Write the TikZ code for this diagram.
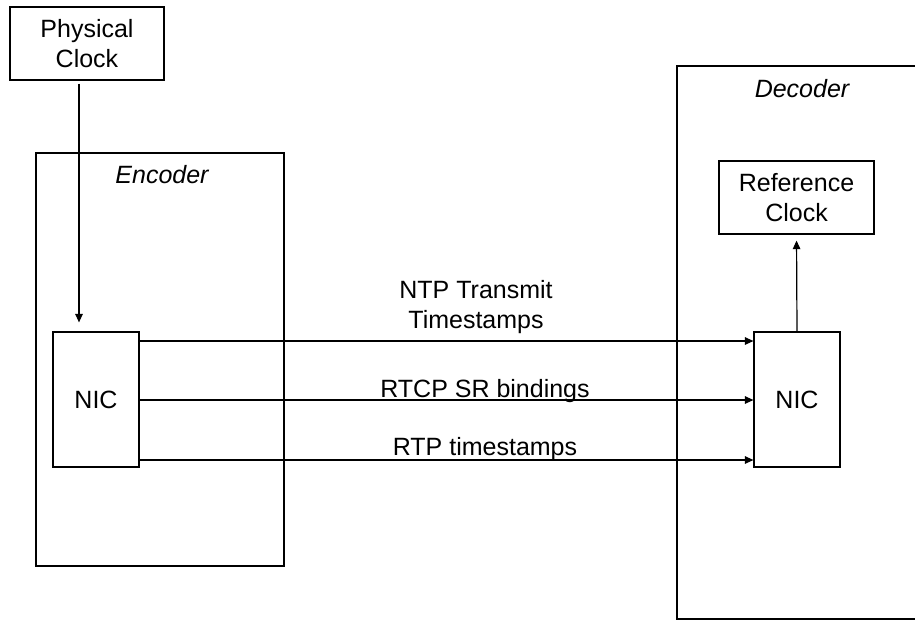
\documentclass[tikz,border=0pt]{standalone}
\usepackage{fontspec}
\setmainfont{Liberation Sans}
\usetikzlibrary{arrows.meta}
\begin{document}
\begin{tikzpicture}[x=1pt,y=-1pt,
  txt/.style={font=\fontsize{25}{30}\selectfont},
  box/.style={draw, line width=1.2pt, inner sep=0pt, align=center, txt},
  lbl/.style={inner sep=0pt, align=center, txt},
  link/.style={line width=1.2pt, -{Triangle[length=8.5pt,width=7.5pt]}}]
\clip (0,0) rectangle (915,619);
\fill[white] (0,0) rectangle (915,619);

% containers
\node[box, minimum width=248pt, minimum height=413pt] (enc) at (160,359.5) {};
\node[box, minimum width=290pt, minimum height=553pt] (dec) at (822,342.5) {};
\node[lbl, anchor=base, font=\fontsize{25}{30}\selectfont\itshape] (enclbl) at (162,183) {Encoder};
\node[lbl, anchor=base, font=\fontsize{25}{30}\selectfont\itshape] (declbl) at (802,97) {Decoder};

% blocks
\node[box, minimum width=154pt, minimum height=73pt] (pc) at (87,43.5) {Physical\\Clock};
\node[box, minimum width=155pt, minimum height=73pt] (rc) at (796.5,197.5) {Reference\\Clock};
\node[box, minimum width=86pt, minimum height=135pt] (nicL) at (96,399.5) {NIC};
\node[box, minimum width=86pt, minimum height=135pt] (nicR) at (797,399.5) {NIC};

% clock feeds
\coordinate (drop) at (79,0);
\draw[link, shorten <=3pt, shorten >=9pt] (pc.south -| drop) -- (nicL.north -| drop);
\draw[link, shorten >=6pt] (nicR.north) -- (rc.south);

% network flows
\draw[link] ([yshift=58.5pt]nicL.east) -- ([yshift=58.5pt]nicR.west);
\draw[link] ([yshift=-0.5pt]nicL.east) -- ([yshift=-0.5pt]nicR.west);
\draw[link] ([yshift=-60.5pt]nicL.east) -- ([yshift=-60.5pt]nicR.west);

\node[lbl] (ntp) at (476,307) {NTP Transmit\\Timestamps};
\node[lbl, anchor=base] (rtcp) at (485,397) {RTCP SR bindings};
\node[lbl, anchor=base] (rtp) at (485,455) {RTP timestamps};
\end{tikzpicture}
\end{document}
